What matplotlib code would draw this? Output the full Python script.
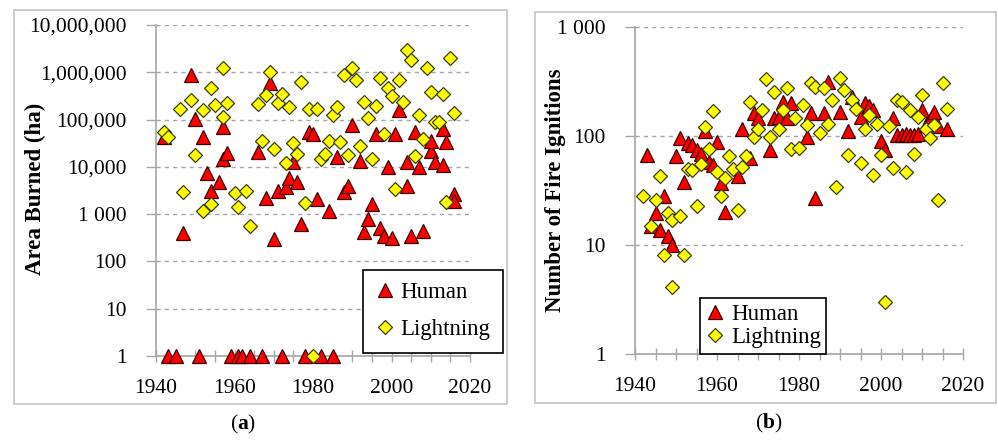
import matplotlib
matplotlib.use("Agg")
import matplotlib.pyplot as plt
from matplotlib.patches import Rectangle
from matplotlib.lines import Line2D

plt.rcParams["font.family"] = ["Liberation Serif", "DejaVu Serif"]
plt.rcParams["mathtext.fontset"] = "custom"
plt.rcParams["mathtext.rm"] = "Liberation Serif"
plt.rcParams["mathtext.bf"] = "Liberation Serif:bold"

# --- (a) Area burned (ha) -------------------------------------------------
area_human_year = [1942, 1943, 1945, 1947, 1949, 1950, 1951, 1952, 1953, 1954,
                   1956, 1957, 1957, 1958, 1959, 1961, 1962, 1964, 1966, 1967,
                   1968, 1969, 1970, 1971, 1972, 1973, 1974, 1975, 1976, 1977,
                   1978, 1979, 1980, 1981, 1982, 1984, 1985, 1986, 1988, 1989,
                   1990, 1992, 1993, 1994, 1995, 1996, 1997, 1998, 1999, 2000,
                   2001, 2002, 2004, 2004, 2005, 2006, 2007, 2008, 2010, 2010,
                   2011, 2013, 2013, 2014, 2016, 2016]
area_human = [43000, 1, 1, 400, 870000, 105000, 1, 43000, 7500, 3100,
              4700, 70000, 15000, 20000, 1, 1, 1, 1, 21000, 1,
              2200, 580000, 300, 3100, 1, 3700, 5700, 12600, 4900, 610,
              1, 55000, 50000, 2100, 1, 1180, 1, 16000, 2900, 4000,
              76000, 13600, 410, 780, 1600, 50000, 520, 345, 9800, 320,
              50000, 158000, 4000, 12600, 345, 55000, 9800, 440, 22000, 36000,
              12600, 10700, 64000, 34000, 2700, 1900]

area_light_year = [1942, 1943, 1946, 1947, 1949, 1950, 1952, 1952, 1954, 1954,
                   1955, 1957, 1957, 1958, 1960, 1961, 1963, 1964, 1966, 1967,
                   1968, 1969, 1970, 1971, 1972, 1973, 1974, 1975, 1976, 1977,
                   1978, 1979, 1980, 1981, 1982, 1983, 1984, 1985, 1986, 1987,
                   1988, 1989, 1990, 1991, 1992, 1993, 1994, 1995, 1996, 1997,
                   1998, 1999, 2000, 2001, 2002, 2003, 2004, 2005, 2006, 2007,
                   2008, 2009, 2010, 2011, 2012, 2013, 2014, 2015, 2016]
area_light = [55000, 43000, 170000, 3000, 260000, 18000, 1140, 158000, 470000, 1620,
              200000, 1220000, 115000, 220000, 2800, 1450, 3100, 550, 210000, 36000,
              330000, 1030000, 24000, 220000, 355000, 12200, 186000, 32000, 19000, 630000,
              1700, 170000, 1, 170000, 15000, 19000, 36000, 123000, 186000, 34000,
              870000, 18000, 1220000, 690000, 28000, 240000, 108000, 15000, 190000, 750000,
              50000, 460000, 315000, 3400, 690000, 240000, 2960000, 1830000, 17000, 123000,
              38000, 1220000, 375000, 89000, 89000, 355000, 1780, 2000000, 141000]

area_ticks = [1, 10, 100, 1000, 10000, 100000, 1000000, 10000000]
area_ticklabels = ["1", "10", "100", "1 000", "10,000", "100,000", "1,000,000", "10,000,000"]

# --- (b) Number of fire ignitions ----------------------------------------
ign_human_year = [1943, 1944, 1945, 1946, 1947, 1948, 1949, 1950, 1951, 1952,
                  1953, 1954, 1955, 1956, 1957, 1958, 1959, 1960, 1961, 1962,
                  1965, 1966, 1968, 1969, 1970, 1973, 1974, 1975, 1976, 1977,
                  1978, 1982, 1983, 1984, 1986, 1987, 1990, 1992, 1993, 1995,
                  1996, 1997, 1998, 2000, 2001, 2003, 2004, 2005, 2006, 2007,
                  2008, 2009, 2010, 2011, 2012, 2013, 2014, 2016]
ign_human = [67, 15, 19.5, 13.7, 28, 12, 10, 66, 95, 38,
             86, 83, 74, 69, 110, 58, 54, 89, 37, 20,
             43, 115, 63, 162, 145, 74, 145, 150, 205, 145,
             200, 98, 162, 27, 162, 315, 167, 110, 230, 150,
             200, 190, 174, 90, 74, 145, 102, 102, 105, 102,
             102, 105, 174, 126, 140, 167, 123, 115]

ign_light_year = [1942, 1944, 1945, 1946, 1947, 1948, 1949, 1949, 1951, 1952,
                  1953, 1954, 1955, 1956, 1957, 1958, 1959, 1960, 1961, 1962,
                  1963, 1964, 1965, 1966, 1967, 1968, 1969, 1970, 1971, 1972,
                  1973, 1974, 1975, 1976, 1977, 1978, 1979, 1980, 1981, 1982,
                  1983, 1984, 1985, 1986, 1987, 1988, 1989, 1990, 1991, 1992,
                  1993, 1994, 1995, 1996, 1997, 1998, 1999, 2000, 2001, 2002,
                  2003, 2004, 2005, 2006, 2007, 2008, 2009, 2010, 2011, 2012,
                  2013, 2014, 2015, 2016]
ign_light = [28, 15, 26, 43, 8.1, 19.5, 4.1, 17, 18.5, 8.1,
             50, 49, 23, 55, 120, 76, 170, 47, 28, 41,
             65, 50, 21, 52, 66, 205, 97, 117, 175, 330,
             98, 255, 117, 175, 275, 76, 145, 77, 191, 126,
             305, 280, 106, 275, 129, 214, 34, 340, 263, 67,
             214, 178, 56, 117, 156, 44, 129, 67, 3.0, 123,
             51, 214, 205, 47, 174, 69, 150, 240, 115, 95,
             126, 26, 305, 178]

ign_ticks = [1, 10, 100, 1000]
ign_ticklabels = ["1", "10", "100", "1 000"]

x_labeled = [1940, 1960, 1980, 2000, 2020]

RED = "#ff0000"
RED_EDGE = "#3c0000"
YELLOW = "#ffff00"
YELLOW_EDGE = "#3c3c00"
GRID = "#a6a6a6"
AXIS = "#a6a6a6"
W, H = 998, 441

fig = plt.figure(figsize=(W / 100, H / 100), dpi=100)


def fx(px):
    return px / W


def fy(py):
    return 1 - py / H


# light gray chart-area frames
for x0, y0, x1, y1 in [(14, 10, 507, 404), (535, 12, 996, 403)]:
    fig.add_artist(Rectangle((fx(x0), fy(y1)), fx(x1 - x0), (y1 - y0) / H,
                             transform=fig.transFigure, facecolor="none",
                             edgecolor="#c8c8c8", linewidth=1.3))


def style_axes(ax, yticks, yticklabels, ylim):
    ax.set_yscale("log")
    ax.set_ylim(*ylim)
    ax.set_xlim(1940, 2020)
    ax.set_yticks(yticks)
    ax.set_yticklabels(yticklabels)
    ax.minorticks_off()
    ax.set_xticks(range(1940, 2021, 5))
    ax.set_xticklabels([str(x) if x in x_labeled else "" for x in range(1940, 2021, 5)])
    for side in ("top", "right"):
        ax.spines[side].set_visible(False)
    for side in ("left", "bottom"):
        ax.spines[side].set_color(AXIS)
        ax.spines[side].set_linewidth(1.2)
    ax.tick_params(axis="y", length=7, color=AXIS, width=1, pad=14, labelsize=15.5)
    ax.tick_params(axis="x", direction="inout", length=9, color=AXIS, width=1,
                   pad=12, labelsize=15.5)
    ax.grid(True, axis="y", color=GRID, linestyle=(0, (3, 3)), linewidth=1)
    ax.set_axisbelow(True)


def scatter_pair(ax, hx, hy, lx, ly):
    ax.plot(hx, hy, linestyle="none", marker="^", markersize=9.8,
            markerfacecolor=RED, markeredgecolor=RED_EDGE, markeredgewidth=0.9,
            clip_on=False, zorder=3)
    ax.plot(lx, ly, linestyle="none", marker="D", markersize=6.7,
            markerfacecolor=YELLOW, markeredgecolor=YELLOW_EDGE, markeredgewidth=0.9,
            clip_on=False, zorder=4)


def add_legend(ax, anchor, spacing, pad):
    handles = [
        Line2D([], [], linestyle="none", marker="^", markersize=9.8,
               markerfacecolor=RED, markeredgecolor=RED_EDGE, markeredgewidth=0.9),
        Line2D([], [], linestyle="none", marker="D", markersize=6.7,
               markerfacecolor=YELLOW, markeredgecolor=YELLOW_EDGE, markeredgewidth=0.9),
    ]
    leg = ax.legend(handles, ["Human", "Lightning"], loc="lower left", bbox_to_anchor=anchor,
                    fontsize=16.5, frameon=True, fancybox=False, framealpha=1,
                    edgecolor="black", handlelength=0.8, handletextpad=0.3,
                    labelspacing=spacing, borderpad=pad, borderaxespad=0)
    leg.get_frame().set_linewidth(1.2)
    leg.set_zorder(5)


# panel (a)
ax1 = fig.add_axes([fx(156), fy(356), fx(470 - 156), (356 - 25) / H])
style_axes(ax1, area_ticks, area_ticklabels, (1, 1e7))
scatter_pair(ax1, area_human_year, area_human, area_light_year, area_light)
add_legend(ax1, (0.659, 0.009), 0.7, 0.55)
fig.text(fx(35), fy(189), "Area Burned (ha)", rotation=90, ha="center", va="center",
         fontsize=16.5, fontweight="bold")
fig.text(fx(243), fy(424), r"($\mathbf{a}$)", ha="center", va="center", fontsize=15.5)

# panel (b)
ax2 = fig.add_axes([fx(635), fy(354), fx(963 - 635), (354 - 27) / H])
style_axes(ax2, ign_ticks, ign_ticklabels, (1, 1000))
scatter_pair(ax2, ign_human_year, ign_human, ign_light_year, ign_light)
add_legend(ax2, (0.198, 0.0), 0.1, 0.25)
fig.text(fx(555), fy(190), "Number of Fire Ignitions", rotation=90, ha="center",
         va="center", fontsize=16.5, fontweight="bold")
fig.text(fx(769), fy(423), r"($\mathbf{b}$)", ha="center", va="center", fontsize=15.5)

fig.savefig("out.png", dpi=100, facecolor="white")
